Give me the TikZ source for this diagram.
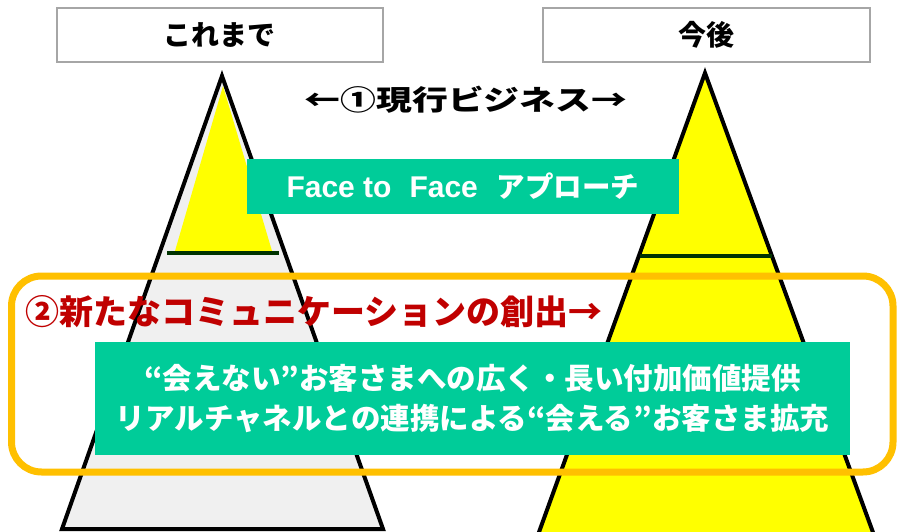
\documentclass[tikz,border=0pt]{standalone}
\usepackage{fontspec}
\setmainfont{Noto Sans CJK JP}
\newfontfamily\lat{Liberation Sans}
\usepackage{graphicx}
\definecolor{tealg}{HTML}{00CC99}
\definecolor{orng}{HTML}{FFC000}
\definecolor{dred}{HTML}{C00000}
\definecolor{lgray}{HTML}{F0F0F0}
\definecolor{dgreen}{HTML}{003300}
\definecolor{yel}{HTML}{FFFF00}
\definecolor{bord}{HTML}{A6A6A6}
\tikzset{
  headbox/.style={draw=bord, line width=2pt, fill=white, minimum height=54pt, inner sep=0pt, font=\bfseries\fontsize{28}{28}\selectfont},
  greenbox/.style={fill=tealg, text=white, inner sep=0pt},
  pyr/.style={draw=black, line width=4pt, line join=miter},
  level/.style={draw=dgreen, line width=4pt}
}
\begin{document}
\begin{tikzpicture}[x=1pt,y=-1pt]
\clip (0,0) rectangle (897,532);
\fill[white] (0,0) rectangle (897,532);
% left pyramid
\path[pyr, fill=lgray] (222,76) -- (62,529) -- (383,529) -- cycle;
\fill[yel] (223,86) -- (175,251) -- (272,251) -- cycle;
\coordinate (lla) at (167,253);
\coordinate (llb) at (279,253);
\draw[level] (lla) -- (llb);
% right pyramid
\path[pyr, fill=yel] (705,73) -- (530,557) -- (882,557) -- cycle;
\coordinate (rla) at (640,256);
\coordinate (rlb) at (772,256);
\draw[level] (rla) -- (rlb);
% header boxes
\node[headbox, minimum width=326pt] (past) at (219.5,35) {これまで};
\node[headbox, minimum width=327pt] (future) at (706.5,35) {今後};
% current business
\node[inner sep=0pt] (cur) at (466,100) {\scalebox{1.28}[1]{\bfseries\fontsize{28}{28}\selectfont ←①現行ビジネス→}};
% face to face box
\node[greenbox, minimum width=432pt, minimum height=55pt] (f2f) at (463,186.5)
  {{\lat\bfseries\fontsize{30}{30}\selectfont Face to\hspace{18pt}Face\hspace{19pt}}{\bfseries\fontsize{28.5}{28.5}\selectfont アプローチ}};
% orange frame
\draw[draw=orng, line width=7pt, rounded corners=30pt] (11.5,276) rectangle (893,472);
% new communication
\node[anchor=west, inner sep=0pt, text=dred, font=\bfseries\fontsize{34}{34}\selectfont] (newcom) at (25,312) {②新たなコミュニケーションの創出→};
% big green box
\node[greenbox, minimum width=755pt, minimum height=113pt, align=center, font=\bfseries\fontsize{29.5}{40}\selectfont] (big) at (472.5,398.5)
  {\raisebox{-3pt}{“会えない”お客さまへの広く・長い付加価値提供}\\\raisebox{-3pt}{リアルチャネルとの連携による“会える”お客さま拡充}};
\end{tikzpicture}
\end{document}
